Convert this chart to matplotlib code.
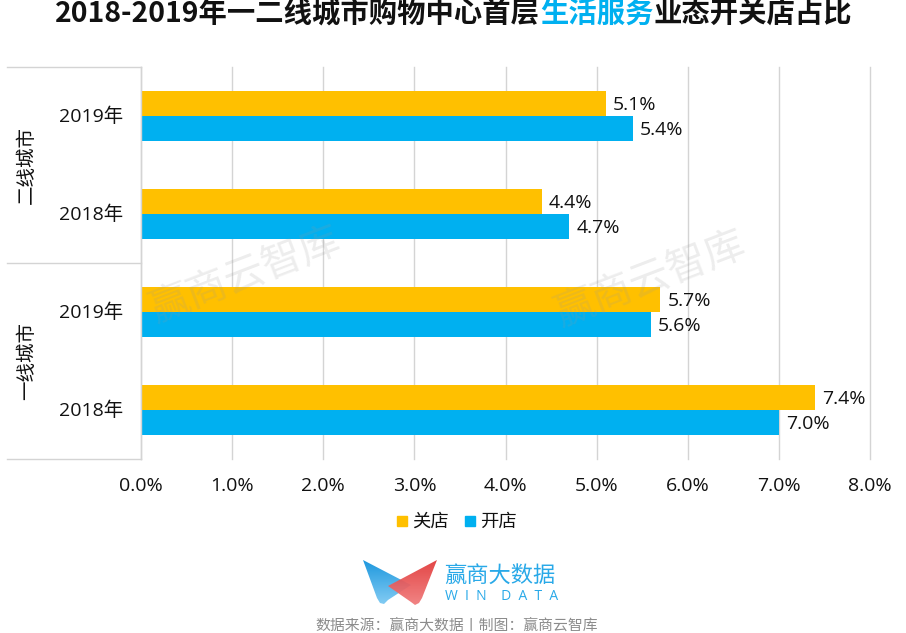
import numpy as np
import matplotlib
matplotlib.use("Agg")
import matplotlib.pyplot as plt
from matplotlib.patches import Polygon

plt.rcParams['font.family'] = ['Open Sans', 'Noto Sans CJK SC', 'DejaVu Sans']

W, H = 906, 633
OUTPUT = "out.png"

YEARS      = ["2018年", "2019年", "2018年", "2019年"]
GROUPS     = ["一线城市", "二线城市"]
CLOSE_VALS = [7.4, 5.7, 4.4, 5.1]
OPEN_VALS  = [7.0, 5.6, 4.7, 5.4]
XTICKS     = [0, 1, 2, 3, 4, 5, 6, 7, 8]

YELLOW = "#FFC000"
BLUE   = "#00B0F0"
GRID   = "#D4D4D4"
INK    = "#111111"
FS     = 14

fig = plt.figure(figsize=(W / 100, H / 100), dpi=100, facecolor="white")
ax = fig.add_axes([141 / W, 1 - 459 / H, (870 - 141) / W, (459 - 67) / H])

y = np.arange(4) + 0.5
bar_h = 0.26
ax.barh(y + bar_h / 2, CLOSE_VALS, bar_h, color=YELLOW, zorder=3)
ax.barh(y - bar_h / 2, OPEN_VALS, bar_h, color=BLUE, zorder=3)

for yy, c, o in zip(y, CLOSE_VALS, OPEN_VALS):
    ax.annotate(f"{c:.1f}%", (c, yy + bar_h / 2), xytext=(5, -1), textcoords="offset points",
                va="center", fontsize=FS, color=INK)
    ax.annotate(f"{o:.1f}%", (o, yy - bar_h / 2), xytext=(5, -1), textcoords="offset points",
                va="center", fontsize=FS, color=INK)

ax.set_xlim(0, 8)
ax.set_ylim(0, 4)
ax.set_xticks(XTICKS)
ax.set_xticklabels([f"{v:.1f}%" for v in XTICKS], fontsize=FS, color=INK)
ax.tick_params(axis="x", length=0, pad=13)
ax.set_yticks([])
ax.grid(axis="x", color=GRID, lw=1.0, zorder=0, clip_on=False)
for s in ["top", "right", "bottom", "left"]:
    ax.spines[s].set_visible(False)

# overlay in image pixels for everything outside the plot
ov = fig.add_axes([0, 0, 1, 1], facecolor="none")

def gradient_shape(points, top, bottom, alpha=1.0):
    # vertical gradient clipped to a polygon (logo only)
    xs = [p[0] for p in points]
    ys = [p[1] for p in points]
    c0, c1 = np.array(matplotlib.colors.to_rgb(top)), np.array(matplotlib.colors.to_rgb(bottom))
    t = np.linspace(0, 1, 64)[:, None]
    img = (c0 * (1 - t) + c1 * t)[:, None, :]
    im = ov.imshow(img, extent=[min(xs), max(xs), max(ys), min(ys)], aspect="auto", alpha=alpha)
    patch = Polygon(points, closed=True, transform=ov.transData, fc="none", ec="none")
    ov.add_patch(patch)
    im.set_clip_path(patch)

gradient_shape([(363, 560), (411, 585), (388, 600), (384, 604), (380, 603), (377, 598)], "#1E98DE", "#82CBF3")
gradient_shape([(437, 560), (388, 586), (411, 602), (415, 605), (419, 603), (422, 598)], "#E23A3A", "#F07C7C", alpha=0.94)

ov.set_xlim(0, W)
ov.set_ylim(H, 0)
ov.axis("off")

for py in [67, 263, 459]:
    ov.plot([7, 141], [py, py], color=GRID, lw=1.0)
ov.plot([141, 141], [67, 459], color=GRID, lw=1.0)

for yy, lab in zip(y, YEARS):
    py = 459 - yy * 98
    ov.text(91, py + 1, lab, ha="center", va="center", fontsize=FS, color=INK)
ov.text(27, 361, GROUPS[0], rotation=90, ha="center", va="center", fontsize=FS, color=INK)
ov.text(27, 165, GROUPS[1], rotation=90, ha="center", va="center", fontsize=FS, color=INK)

# title in three colours
parts = [("2018-2019年一二线城市购物中心首层", "#111111"), ("生活服务", "#00B0F0"), ("业态开关店占比", "#111111")]
rend = fig.canvas.get_renderer()
px = 55
for s, col in parts:
    t = ov.text(px, 14, s, color=col, fontsize=20.4, fontweight="bold",
                family=["Noto Sans CJK SC"], ha="left", va="center")
    px += t.get_window_extent(rend).width

# legend
ov.add_patch(plt.Rectangle((397, 516), 10, 10, color=YELLOW))
ov.text(412, 522, "关店", va="center", fontsize=13.2, color=INK)
ov.add_patch(plt.Rectangle((465, 516), 10, 10, color=BLUE))
ov.text(480, 522, "开店", va="center", fontsize=13.2, color=INK)

# watermarks
for wx, wy in [(245, 276), (650, 280)]:
    ov.text(wx, wy, "赢商云智库", rotation=21, ha="center", va="center", fontsize=29,
            color="#999999", alpha=0.18, zorder=5, rotation_mode="anchor")

ov.text(444, 576, "赢商大数据", fontsize=16, color="#29A9E8", va="center", ha="left")
ov.text(445, 596, "W  I  N    D  A  T  A", fontsize=10, color="#29A9E8", va="center", ha="left")

ov.text(457, 626, "数据来源：赢商大数据丨制图：赢商云智库", fontsize=10.7, color="#8c8c8c",
        ha="center", va="center")

fig.savefig(OUTPUT, dpi=100)
plt.close(fig)
